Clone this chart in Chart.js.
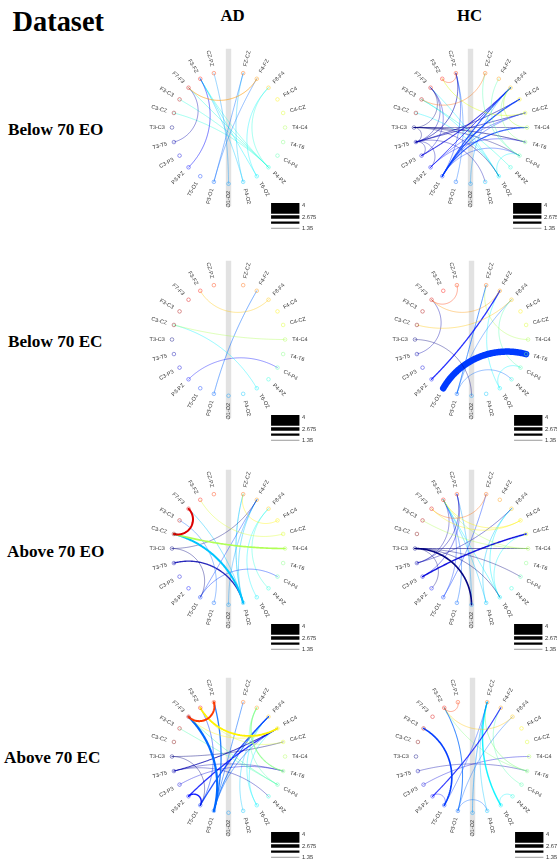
<!DOCTYPE html>
<html><head><meta charset="utf-8">
<style>
html,body{margin:0;padding:0;background:#fff;width:557px;height:865px;overflow:hidden}
#page{position:relative;width:557px;height:865px;overflow:hidden}
canvas{position:absolute}
.t{position:absolute;font-family:"Liberation Serif",serif;font-weight:bold;color:#000;line-height:1;white-space:nowrap}
</style>
<script src="https://cdn.jsdelivr.net/npm/chart.js@4"></script>
</head><body><div id="page"></div>
<script>
const nodeLabels=["FZ-CZ","F4-FZ","F8-F4","F4-C4","C4-CZ","T4-C4","T4-T6","C4-P4","P4-PZ","T6-O2","P4-O2","O1-O2","P3-O1","T5-O1","P3-PZ","C3-P3","T3-T5","T3-C3","C3-CZ","F3-C3","F7-F3","F3-FZ","CZ-PZ"];
const legendValues=[4,3.3375,2.675,2.0125,1.35];
const legendLabels=["4","","2.675","","1.35"];
const columnTitles=["AD","HC"];
const rowTitles=["Below 70 EO","Below 70 EC","Above 70 EO","Above 70 EC"];

const edgesAdBelowEO=[["F7-F3","F4-FZ",1.7],["F7-F3","T3-T5",1.4],["F3-FZ","P3-PZ",1.6],["CZ-PZ","O1-O2",1.35],["FZ-CZ","P3-O1",1.4],["F4-FZ","P3-O1",1.4],["F3-FZ","P4-O2",1.35],["F3-FZ","T6-O2",1.35],["FZ-CZ","P4-O2",1.35],["F3-FZ","P4-PZ",1.35],["F7-F3","P4-PZ",1.35],["F3-C3","P4-PZ",1.35],["C3-CZ","P4-PZ",1.35],["F8-F4","P4-PZ",1.35],["F8-F4","T6-O2",1.35]];
const edgesHcBelowEO=[["F3-FZ","CZ-PZ",1.35],["F3-C3","FZ-CZ",1.4],["F3-FZ","C4-CZ",1.6],["F8-F4","T4-C4",1.6],["F8-F4","T4-T6",1.4],["F4-FZ","C4-P4",1.35],["FZ-CZ","C4-P4",1.35],["T5-O1","F8-F4",1.9],["T5-O1","F4-C4",2],["T5-O1","T4-C4",1.9],["T5-O1","C4-CZ",1.5],["P3-PZ","C4-CZ",1.4],["P3-PZ","F8-F4",1.7],["C3-P3","F8-F4",1.8],["T3-T5","F4-C4",1.7],["T3-T5","C4-CZ",1.6],["T3-T5","CZ-PZ",1.7],["T3-C3","T4-T6",1.7],["T3-C3","C4-P4",1.4],["T3-C3","T4-C4",1.4],["T3-C3","F7-F3",1.35],["T3-T5","F7-F3",1.4],["C3-P3","F7-F3",1.35],["T3-T5","C3-P3",1.35],["T3-T5","P3-PZ",1.35],["CZ-PZ","T5-O1",1.5],["CZ-PZ","P3-O1",1.35],["P3-PZ","T4-T6",1.4],["T3-C3","T6-O2",1.35],["T3-T5","P4-O2",1.35],["O1-O2","F8-F4",1.35],["C3-CZ","T6-O2",1.35],["F3-C3","P4-PZ",1.5],["F7-F3","T6-O2",1.35],["C4-P4","T6-O2",1.35],["T3-C3","T3-T5",1.35],["F3-C3","T6-O2",1.4],["T5-O1","C4-P4",1.4]];
const edgesAdBelowEC=[["F3-FZ","F8-F4",1.35],["C3-CZ","T4-C4",1.35],["C3-CZ","T6-O2",1.4],["P3-PZ","C4-P4",1.4],["P3-O1","F4-FZ",1.6]];
const edgesHcBelowEC=[["CZ-PZ","F7-F3",1.35],["F7-F3","F4-FZ",1.4],["C3-CZ","F8-F4",1.4],["F7-F3","T3-T5",1.35],["T3-C3","O1-O2",1.35],["T5-O1","T4-T6",4],["P3-PZ","F4-FZ",2],["P3-O1","FZ-CZ",1.7],["P3-O1","F8-F4",1.4],["P3-O1","P4-PZ",1.35],["FZ-CZ","T4-C4",1.35],["F4-FZ","T6-O2",1.35],["F8-F4","C4-P4",1.35],["C4-P4","T6-O2",1.35]];
const edgesAdAboveEO=[["C3-CZ","F7-F3",2.4],["C3-CZ","T4-C4",2.2],["C3-CZ","P4-O2",2.4],["F7-F3","P4-O2",1.5],["F3-C3","P3-O1",1.35],["F3-FZ","C4-CZ",1.35],["FZ-CZ","F4-C4",1.35],["T3-C3","F4-FZ",1.4],["T3-C3","T5-O1",1.4],["T3-T5","P4-O2",2],["T5-O1","F4-FZ",1.35],["T5-O1","C4-P4",1.5],["FZ-CZ","P4-O2",1.7],["F4-FZ","P4-O2",1.5],["F4-FZ","O1-O2",1.4],["F8-F4","P4-PZ",1.35],["F8-F4","T6-O2",1.35]];
const edgesHcAboveEO=[["F7-F3","F4-C4",1.4],["F3-FZ","F4-C4",1.5],["F7-F3","FZ-CZ",1.35],["F3-C3","T4-C4",1.35],["F3-FZ","T4-C4",1.35],["T3-C3","T4-C4",1.6],["T3-C3","O1-O2",2.2],["T3-C3","C4-P4",1.4],["T3-C3","T6-O2",1.5],["T3-C3","P3-PZ",1.35],["C3-P3","C4-CZ",2.1],["T3-T5","F8-F4",1.5],["T3-T5","CZ-PZ",1.5],["C3-P3","CZ-PZ",1.5],["T3-T5","F3-FZ",1.4],["T5-O1","FZ-CZ",1.5],["F3-FZ","T5-O1",1.4],["F3-FZ","P4-O2",1.4],["F3-FZ","T6-O2",1.35],["F8-F4","P4-O2",1.5],["F8-F4","T6-O2",1.5],["C4-CZ","T6-O2",1.35],["CZ-PZ","O1-O2",1.4],["F3-FZ","P3-O1",1.5]];
const edgesAdAboveEC=[["F7-F3","CZ-PZ",2.4],["F3-FZ","F4-C4",2.3],["F7-F3","F4-C4",1.35],["F3-FZ","C4-CZ",1.35],["F4-FZ","T4-T6",1.9],["F4-FZ","C4-P4",1.4],["F7-F3","P3-O1",2.5],["CZ-PZ","P3-O1",2],["F3-FZ","T5-O1",1.6],["F7-F3","C4-P4",1.6],["F3-C3","C4-P4",1.4],["T3-C3","C4-CZ",1.5],["T3-C3","T5-O1",1.4],["T3-T5","F4-C4",1.8],["T3-T5","P4-PZ",1.4],["T3-T5","T4-T6",1.4],["C3-P3","T4-T6",1.4],["P3-PZ","F4-C4",2],["P3-PZ","T5-O1",2.1],["T5-O1","F8-F4",2],["P3-O1","F8-F4",1.8],["FZ-CZ","P3-O1",1.6],["F8-F4","P4-O2",1.4],["F8-F4","T6-O2",1.4],["F4-C4","T6-O2",1.4],["P3-O1","F4-C4",1.6]];
const edgesHcAboveEC=[["F3-FZ","CZ-PZ",1.4],["F3-FZ","F8-F4",1.35],["F3-FZ","P3-O1",1.8],["F3-C3","T5-O1",2.2],["P3-PZ","F4-FZ",1.9],["P3-O1","F8-F4",1.4],["T5-O1","FZ-CZ",1.4],["O1-O2","FZ-CZ",1.6],["P3-O1","P4-O2",1.35],["P3-PZ","T5-O1",1.35],["P4-PZ","T6-O2",1.35],["FZ-CZ","T6-O2",2.1],["FZ-CZ","T4-T6",1.6],["FZ-CZ","P4-O2",1.4],["F3-FZ","T4-T6",1.35],["F4-FZ","C4-P4",1.35],["T3-T5","T4-T6",1.35],["C3-P3","T4-C4",1.35]];

const PX=59; // pixels per unit circle radius
const panels=[
 {cx:228.3,cy:126.5,e:edgesAdBelowEO},{cx:470,cy:126.5,e:edgesHcBelowEO},
 {cx:228.3,cy:339,e:edgesAdBelowEC},{cx:471,cy:339,e:edgesHcBelowEC},
 {cx:228.2,cy:548.3,e:edgesAdAboveEO},{cx:471,cy:548.3,e:edgesHcAboveEO},
 {cx:228.2,cy:756,e:edgesAdAboveEC},{cx:472.3,cy:755.7,e:edgesHcAboveEC}];
const L=100,Rt=125,T=90,B=112;

function jet(v){const c=x=>Math.round(255*Math.max(0,Math.min(1,1.5-Math.abs(4*v-x))));return [c(3),c(2),c(1)];}
function nodeRGB(i){return jet(1-((i+5)%23)/22);}
function rgba(c,a){return `rgba(${c[0]},${c[1]},${c[2]},${a})`;}
function angle(i){return (i+1)*Math.PI/12;}
function pos(i){const t=angle(i);return {x:Math.sin(t),y:Math.cos(t)};}
function legendWidth(v){return 1+(v-1.35)*1.887;}
function edgeWidth(v){return 0.7+5.8*Math.pow((v-1.35)/2.65,1.6);}

function arcPoints(i,j){
  const a=pos(i),b=pos(j),det=a.x*b.y-a.y*b.x,pts=[],n=48;
  if(Math.abs(det)<1e-6) return [a,b];
  const x0=(b.y-a.y)/det,y0=(a.x-b.x)/det,r=Math.sqrt(x0*x0+y0*y0-1);
  let t1=Math.atan2(a.y-y0,a.x-x0),t2=Math.atan2(b.y-y0,b.x-x0),d=t2-t1;
  while(d>Math.PI)d-=2*Math.PI; while(d<-Math.PI)d+=2*Math.PI;
  for(let k=0;k<=n;k++){const t=t1+d*k/n;pts.push({x:x0+r*Math.cos(t),y:y0+r*Math.sin(t)});}
  return pts;
}

const labelPlugin={id:'nodeText',afterDatasetsDraw(chart){
  const {ctx,scales:{x,y}}=chart;
  ctx.save();ctx.textBaseline='middle';ctx.fillStyle='#333';
  ctx.textRendering='geometricPrecision';ctx.fontKerning='none';
  ctx.font='5.5px "Liberation Sans",Arial,sans-serif';
  nodeLabels.forEach((s,i)=>{
    const p=pos(i),r=66.5/PX,px=x.getPixelForValue(p.x*r),py=y.getPixelForValue(p.y*r),t=angle(i);
    ctx.save();ctx.translate(px,py);
    if(t<Math.PI){ctx.rotate(t-Math.PI/2);ctx.textAlign='left';}
    else{ctx.rotate(t+Math.PI/2);ctx.textAlign='right';}
    ctx.fillText(s,0,0);ctx.restore();
  });
  ctx.textAlign='left';ctx.font='5.7px "Liberation Sans",Arial,sans-serif';
  legendValues.forEach((v,i)=>{ if(!legendLabels[i])return;
    ctx.fillText(legendLabels[i],x.getPixelForValue(76.7/PX),y.getPixelForValue(-(82.2+5.87*i)/PX));
  });
  ctx.restore();
}};

const page=document.getElementById('page');
panels.forEach(p=>{
  const cv=document.createElement('canvas');
  cv.width=L+Rt;cv.height=T+B;
  cv.style.left=(p.cx-L)+'px';cv.style.top=(p.cy-T)+'px';
  cv.style.width=(L+Rt)+'px';cv.style.height=(T+B)+'px';
  page.appendChild(cv);
  const ds=[];
  ds.push({data:[{x:0,y:1.4},{x:0,y:-1.4}],showLine:true,pointRadius:0,borderColor:'#e2e2e2',borderWidth:5.4,borderCapStyle:'butt',order:10});
  p.e.forEach(([a,b,w])=>{
    const i=nodeLabels.indexOf(a),j=nodeLabels.indexOf(b);
    const col=((i+5)%23)>((j+5)%23)?i:j;
    const lw=edgeWidth(w);
    ds.push({data:arcPoints(i,j),showLine:true,pointRadius:0,tension:0.001,borderColor:rgba(nodeRGB(col),Math.min(1,.6+.4*(lw-.7))),borderWidth:lw,borderCapStyle:'round',borderJoinStyle:'round',order:5});
  });
  ds.push({data:nodeLabels.map((s,i)=>pos(i)),showLine:false,pointRadius:1.8,pointBackgroundColor:'rgba(255,255,255,0)',pointBorderWidth:.7,
    pointBorderColor:nodeLabels.map((s,i)=>rgba(nodeRGB(i),.6)),order:1});
  legendValues.forEach((v,i)=>{
    const yy=-(82.2+5.87*i)/PX,lw=legendWidth(v);
    ds.push({data:[{x:44.4/PX,y:yy},{x:74/PX,y:yy}],showLine:true,pointRadius:0,borderColor:i==4?'#9a9a9a':'#000',borderWidth:lw,borderCapStyle:'butt',order:2});
  });
  new Chart(cv,{type:'scatter',data:{datasets:ds},plugins:[labelPlugin],options:{
    responsive:false,animation:false,devicePixelRatio:1,events:[],
    layout:{padding:0},
    plugins:{legend:{display:false},tooltip:{enabled:false},title:{display:false}},
    scales:{x:{type:'linear',display:false,min:-L/PX,max:Rt/PX},y:{type:'linear',display:false,min:-B/PX,max:T/PX}}
  }});
});

function addText(s,left,baseline,size){
  const d=document.createElement('div');d.className='t';d.textContent=s;
  d.style.left=left+'px';d.style.top=(baseline-.8375*size)+'px';d.style.fontSize=size+'px';page.appendChild(d);
}
addText("Dataset",12.5,31.7,28.4);
addText(columnTitles[0],220.5,22,16.8);
addText(columnTitles[1],457,22,16.8);
addText(rowTitles[0],8,135,17.2);
addText(rowTitles[1],8,347,17.2);
addText(rowTitles[2],7,557,17.2);
addText(rowTitles[3],4,763,17.2);
</script></body></html>
